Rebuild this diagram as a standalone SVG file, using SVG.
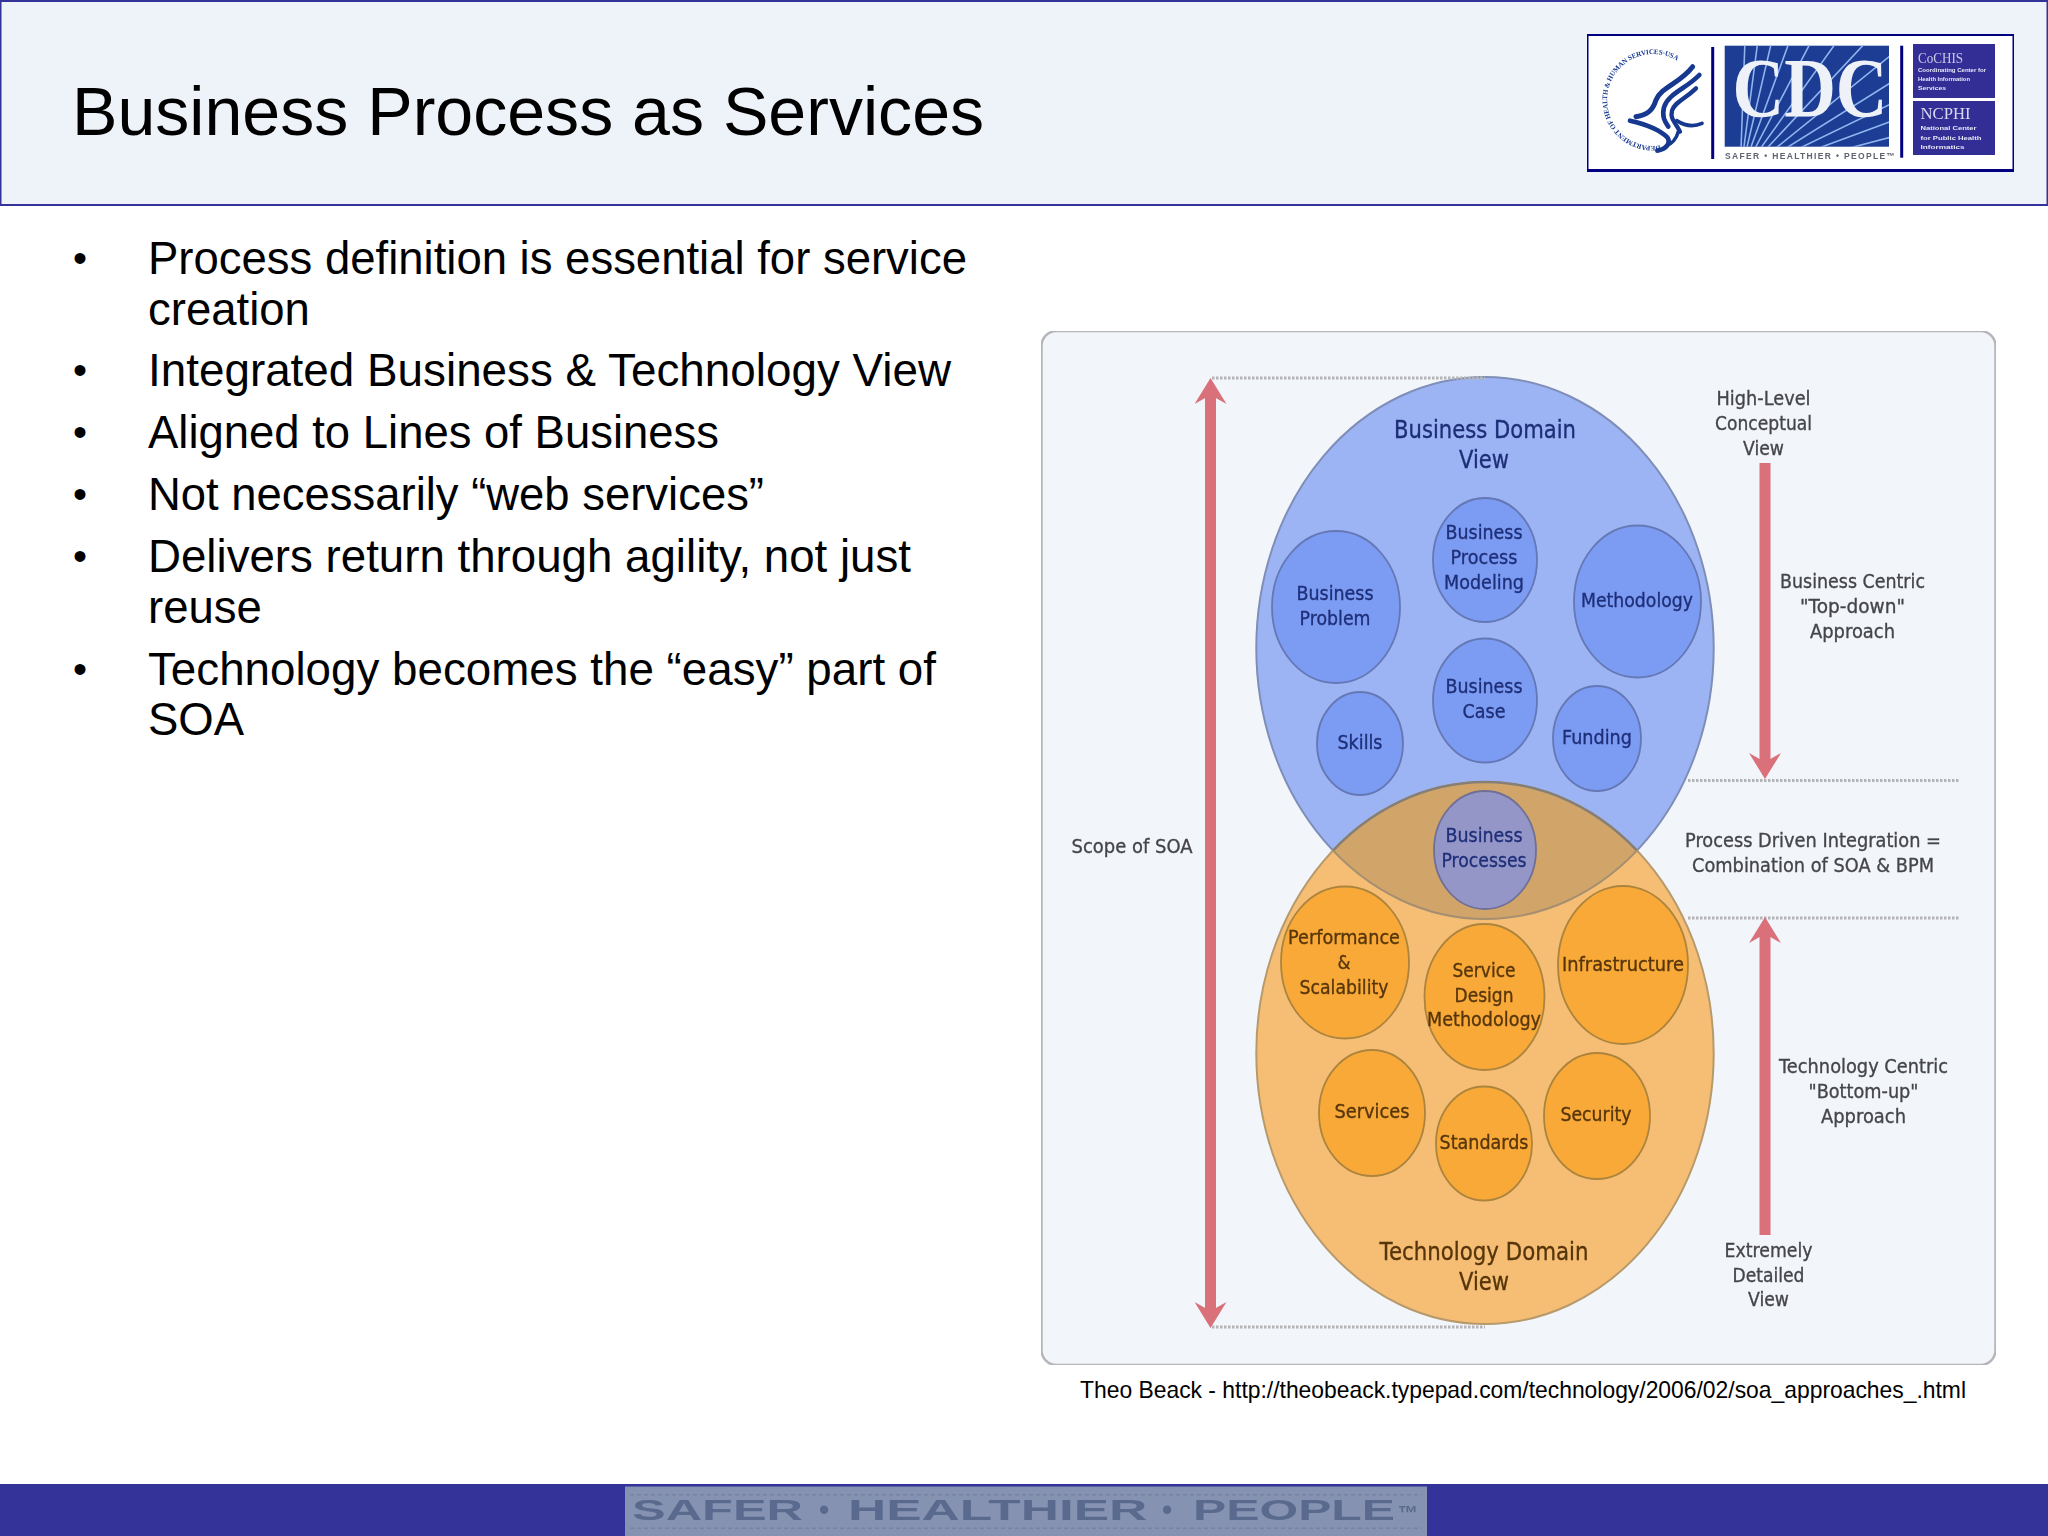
<svg xmlns="http://www.w3.org/2000/svg" xmlns:xlink="http://www.w3.org/1999/xlink" width="2048" height="1536" viewBox="0 0 2048 1536">
<style>
.sans{font-family:"Liberation Sans",Arial,sans-serif;fill:#000}
.title{font-size:68.1px}
.b{font-size:45.5px}
.dotb{font-size:40px}
.d{font-family:"DejaVu Sans",Verdana,sans-serif;text-anchor:middle;font-size:20px;stroke-width:.35}
.big{font-size:24px}
.bt{fill:#1f2f78;stroke:#1f2f78}
.ot{fill:#563509;stroke:#563509}
.gt{fill:#45454a;stroke:#45454a}
.sb{fill:#7c9bf3;stroke:#6478b4;stroke-width:1.8}
.so{fill:#f8a939;stroke:#ad843e;stroke-width:1.8}
.dot{stroke:#b4b4b6;stroke-width:3;stroke-dasharray:2.5 1.5;fill:none}
.arr{stroke:#d9707a;stroke-width:11;fill:none}
.lt{font-family:"Liberation Sans",Arial,sans-serif;font-weight:bold;font-size:6px;fill:#e6e7f8}
.ray{stroke:#8fb4ee;stroke-width:1.6;fill:none}
.eg{stroke:#16388f;fill:none;stroke-linecap:round}
</style>
<defs>
<marker id="head" markerUnits="userSpaceOnUse" viewBox="0 0 26 32" markerWidth="26" markerHeight="32" refX="16" refY="16" orient="auto-start-reverse">
<path d="M26 16L0 0L9 16L0 32Z" fill="#d9707a"/>
</marker>
<filter id="soft" x="0" y="0" width="1" height="1"><feGaussianBlur stdDeviation="0.6"/></filter>
<filter id="soft2" x="0" y="0" width="1" height="1"><feGaussianBlur stdDeviation="0.35"/></filter>
<clipPath id="lens"><ellipse cx="1485" cy="648" rx="228.7" ry="271"/></clipPath>
<clipPath id="lens2"><ellipse cx="1485" cy="1053" rx="228.7" ry="271"/></clipPath>
<clipPath id="cdcclip"><rect x="1724.7" y="45.7" width="164.3" height="101"/></clipPath>
<path id="seal" d="M1660 145.500A46 46 0 1 1 1688 70"/>
</defs>
<rect width="2048" height="1536" fill="#fff"/>
<g id="header">
<rect x="0.5" y="1" width="2047" height="204" fill="#eef2f9" stroke="#333399" stroke-width="2"/>
<text class="sans title" x="72" y="135">Business Process as Services</text>
</g>
<g id="logo" filter="url(#soft2)">
<rect x="1587" y="34.500" width="427" height="136" fill="#fff" stroke="#000080" stroke-width="3"/>
<text font-family="Liberation Serif,serif" font-weight="bold" font-size="7" fill="#16388f"><textPath xlink:href="#seal" href="#seal" textLength="176" lengthAdjust="spacing">DEPARTMENT OF HEALTH &amp; HUMAN SERVICES·USA</textPath></text>
<g transform="translate(1560 20) scale(.3333)">
<path class="eg" stroke-width="15" d="M398 140C360 190 305 200 288 240C278 272 262 285 228 290"/>
<path class="eg" stroke-width="14" d="M418 165C380 205 325 220 312 262C305 292 315 305 325 320"/>
<path class="eg" stroke-width="13" d="M408 205C372 240 345 245 336 272C330 298 345 305 360 335"/>
<path class="eg" stroke-width="14" d="M210 302C255 312 300 330 322 352C335 372 315 388 292 392"/>
<path class="eg" stroke-width="11" d="M350 302C375 318 400 322 426 310"/>
<path class="eg" stroke-width="11" d="M355 335C350 355 335 372 318 378"/>
</g>
<rect x="1711.200" y="47" width="3" height="112" fill="#000080"/>
<rect x="1724.700" y="45.700" width="164.300" height="101" fill="#1a3c93"/>
<g clip-path="url(#cdcclip)">
<path class="ray" d="M1740 177L1745 40M1740 177L1758 40M1740 177L1772 40M1740 177L1790 40M1740 177L1812 40M1740 177L1838 40M1740 177L1868 40M1740 177L1895 52M1740 177L1895 80M1740 177L1895 102M1740 177L1895 120M1740 177L1895 136"/>
</g>
<text x="1810" y="117" text-anchor="middle" font-family="Liberation Serif,serif" font-weight="bold" font-size="84" fill="#eef2f8" textLength="155" lengthAdjust="spacingAndGlyphs">CDC</text>
<text x="1725" y="159" font-family="Liberation Sans,sans-serif" font-weight="bold" font-size="8.500" fill="#5f6470" textLength="170" lengthAdjust="spacing">SAFER • HEALTHIER • PEOPLE™</text>
<rect x="1900.200" y="45.700" width="3" height="112" fill="#000080"/>
<rect x="1913" y="44" width="82" height="54" fill="#332f96"/>
<rect x="1913" y="101" width="82" height="54" fill="#332f96"/>
<text x="1918" y="62.500" font-family="Liberation Serif,serif" font-size="14" fill="#c9c9ea" textLength="45" lengthAdjust="spacingAndGlyphs">CoCHIS</text>
<text class="lt" x="1918" y="72" textLength="68" lengthAdjust="spacingAndGlyphs">Coordinating Center for</text>
<text class="lt" x="1918" y="81" textLength="52" lengthAdjust="spacingAndGlyphs">Health Information</text>
<text class="lt" x="1918" y="90" textLength="28" lengthAdjust="spacingAndGlyphs">Services</text>
<text x="1920.500" y="119" font-family="Liberation Serif,serif" font-size="16" fill="#d9d9f0" textLength="50" lengthAdjust="spacingAndGlyphs">NCPHI</text>
<text class="lt" x="1920.500" y="130" textLength="56" lengthAdjust="spacingAndGlyphs">National Center</text>
<text class="lt" x="1920.500" y="139.500" textLength="61" lengthAdjust="spacingAndGlyphs">for Public Health</text>
<text class="lt" x="1920.500" y="148.500" textLength="44" lengthAdjust="spacingAndGlyphs">Informatics</text>
</g>
<g id="bullets">
<text class="sans dotb" x="73" y="272">•</text>
<text class="sans b" x="148" y="274" textLength="819" lengthAdjust="spacingAndGlyphs">Process definition is essential for service</text>
<text class="sans b" x="148" y="324.500">creation</text>
<text class="sans dotb" x="73" y="384">•</text>
<text class="sans b" x="148" y="386" textLength="803" lengthAdjust="spacingAndGlyphs">Integrated Business &amp; Technology View</text>
<text class="sans dotb" x="73" y="446">•</text>
<text class="sans b" x="148" y="448" textLength="571" lengthAdjust="spacingAndGlyphs">Aligned to Lines of Business</text>
<text class="sans dotb" x="73" y="508">•</text>
<text class="sans b" x="148" y="510" textLength="616" lengthAdjust="spacingAndGlyphs">Not necessarily “web services”</text>
<text class="sans dotb" x="73" y="570">•</text>
<text class="sans b" x="148" y="572" textLength="763" lengthAdjust="spacingAndGlyphs">Delivers return through agility, not just</text>
<text class="sans b" x="148" y="622.500">reuse</text>
<text class="sans dotb" x="73" y="683">•</text>
<text class="sans b" x="148" y="684.500" textLength="788" lengthAdjust="spacingAndGlyphs">Technology becomes the “easy” part of</text>
<text class="sans b" x="148" y="735">SOA</text>
</g>
<g id="soa-diagram" filter="url(#soft)">
<rect id="panel" x="1041.500" y="331" width="954" height="1034" rx="15" fill="#f2f5fa" stroke="#b4b6ba" stroke-width="2.500"/>
<g id="business-domain">
<ellipse cx="1485" cy="648" rx="228.700" ry="271" fill="#9db4f4" stroke="#7f8eb8" stroke-width="2"/>
<text class="d big bt" x="1485" y="438" textLength="182" lengthAdjust="spacingAndGlyphs">Business Domain</text>
<text class="d big bt" x="1484" y="468" textLength="50" lengthAdjust="spacingAndGlyphs">View</text>
</g>
<g id="business-problem"><ellipse class="sb" cx="1336" cy="607" rx="64" ry="76"/>
<text class="d bt" x="1335" y="600" textLength="77" lengthAdjust="spacingAndGlyphs">Business</text>
<text class="d bt" x="1335" y="625" textLength="71" lengthAdjust="spacingAndGlyphs">Problem</text></g>
<g id="bpm"><ellipse class="sb" cx="1485" cy="560" rx="52" ry="62"/>
<text class="d bt" x="1484" y="539" textLength="77" lengthAdjust="spacingAndGlyphs">Business</text>
<text class="d bt" x="1484" y="564" textLength="67" lengthAdjust="spacingAndGlyphs">Process</text>
<text class="d bt" x="1484" y="589" textLength="80" lengthAdjust="spacingAndGlyphs">Modeling</text></g>
<g id="methodology"><ellipse class="sb" cx="1637.500" cy="601.500" rx="63.500" ry="76"/>
<text class="d bt" x="1637" y="607" textLength="112" lengthAdjust="spacingAndGlyphs">Methodology</text></g>
<g id="business-case"><ellipse class="sb" cx="1485" cy="700.500" rx="52" ry="62"/>
<text class="d bt" x="1484" y="693" textLength="77" lengthAdjust="spacingAndGlyphs">Business</text>
<text class="d bt" x="1484" y="718" textLength="43" lengthAdjust="spacingAndGlyphs">Case</text></g>
<g id="skills"><ellipse class="sb" cx="1360" cy="743.500" rx="43" ry="51.500"/>
<text class="d bt" x="1360" y="749" textLength="45" lengthAdjust="spacingAndGlyphs">Skills</text></g>
<g id="funding"><ellipse class="sb" cx="1597" cy="738.500" rx="44" ry="52.500"/>
<text class="d bt" x="1597" y="744" textLength="70" lengthAdjust="spacingAndGlyphs">Funding</text></g>
<g id="technology-domain">
<ellipse cx="1485" cy="1053" rx="228.700" ry="271" fill="#f6be74" stroke="#b79a6c" stroke-width="2"/>
<ellipse cx="1485" cy="1053" rx="228.700" ry="271" fill="#d1a46b" stroke="#857f75" stroke-width="2.500" clip-path="url(#lens)"/>
<ellipse cx="1485" cy="648" rx="228.700" ry="271" fill="none" stroke="#a58f70" stroke-width="2" clip-path="url(#lens2)"/>
<text class="d big ot" x="1484" y="1260" textLength="209" lengthAdjust="spacingAndGlyphs">Technology Domain</text>
<text class="d big ot" x="1484" y="1290" textLength="50" lengthAdjust="spacingAndGlyphs">View</text>
</g>
<g id="business-processes"><ellipse cx="1485" cy="850" rx="51" ry="59" fill="#9596c8" stroke="#6f6f96" stroke-width="1.800"/>
<text class="d bt" x="1484" y="842" textLength="77" lengthAdjust="spacingAndGlyphs">Business</text>
<text class="d bt" x="1484" y="867" textLength="85" lengthAdjust="spacingAndGlyphs">Processes</text></g>
<g id="performance"><ellipse class="so" cx="1345" cy="962.500" rx="64" ry="76"/>
<text class="d ot" x="1344" y="944" textLength="112" lengthAdjust="spacingAndGlyphs">Performance</text>
<text class="d ot" x="1344" y="969" textLength="13" lengthAdjust="spacingAndGlyphs">&amp;</text>
<text class="d ot" x="1344" y="994" textLength="89" lengthAdjust="spacingAndGlyphs">Scalability</text></g>
<g id="service-design"><ellipse class="so" cx="1484.500" cy="997" rx="60" ry="73"/>
<text class="d ot" x="1484" y="977" textLength="63" lengthAdjust="spacingAndGlyphs">Service</text>
<text class="d ot" x="1484" y="1002" textLength="59" lengthAdjust="spacingAndGlyphs">Design</text>
<text class="d ot" x="1484" y="1026" textLength="114" lengthAdjust="spacingAndGlyphs">Methodology</text></g>
<g id="infrastructure"><ellipse class="so" cx="1623" cy="965" rx="65" ry="79"/>
<text class="d ot" x="1623" y="971" textLength="122" lengthAdjust="spacingAndGlyphs">Infrastructure</text></g>
<g id="services"><ellipse class="so" cx="1372" cy="1113" rx="53" ry="63"/>
<text class="d ot" x="1372" y="1118" textLength="75" lengthAdjust="spacingAndGlyphs">Services</text></g>
<g id="standards"><ellipse class="so" cx="1484" cy="1143.500" rx="48" ry="57"/>
<text class="d ot" x="1484" y="1149" textLength="89" lengthAdjust="spacingAndGlyphs">Standards</text></g>
<g id="security"><ellipse class="so" cx="1597" cy="1116" rx="53" ry="63"/>
<text class="d ot" x="1596" y="1121" textLength="71" lengthAdjust="spacingAndGlyphs">Security</text></g>
<g id="labels">
<text class="d gt" x="1763.500" y="405" textLength="94" lengthAdjust="spacingAndGlyphs">High-Level</text>
<text class="d gt" x="1763.500" y="430" textLength="97" lengthAdjust="spacingAndGlyphs">Conceptual</text>
<text class="d gt" x="1763.500" y="455" textLength="41" lengthAdjust="spacingAndGlyphs">View</text>
<text class="d gt" x="1852.500" y="588" textLength="145" lengthAdjust="spacingAndGlyphs">Business Centric</text>
<text class="d gt" x="1852.500" y="613" textLength="105" lengthAdjust="spacingAndGlyphs">"Top-down"</text>
<text class="d gt" x="1852.500" y="638" textLength="85" lengthAdjust="spacingAndGlyphs">Approach</text>
<text class="d gt" x="1132" y="853" textLength="121" lengthAdjust="spacingAndGlyphs">Scope of SOA</text>
<text class="d gt" x="1813" y="847" textLength="256" lengthAdjust="spacingAndGlyphs">Process Driven Integration =</text>
<text class="d gt" x="1813" y="872" textLength="242" lengthAdjust="spacingAndGlyphs">Combination of SOA &amp; BPM</text>
<text class="d gt" x="1863.500" y="1073" textLength="169" lengthAdjust="spacingAndGlyphs">Technology Centric</text>
<text class="d gt" x="1863.500" y="1098" textLength="110" lengthAdjust="spacingAndGlyphs">"Bottom-up"</text>
<text class="d gt" x="1863.500" y="1123" textLength="85" lengthAdjust="spacingAndGlyphs">Approach</text>
<text class="d gt" x="1768.500" y="1257" textLength="88" lengthAdjust="spacingAndGlyphs">Extremely</text>
<text class="d gt" x="1768.500" y="1282" textLength="72" lengthAdjust="spacingAndGlyphs">Detailed</text>
<text class="d gt" x="1768.500" y="1306" textLength="41" lengthAdjust="spacingAndGlyphs">View</text>
</g>
</g>
<g id="connectors">
<path class="dot" d="M1212 378H1485M1212 1327H1485M1688 780.500H1960M1688 918H1960"/>
<path class="arr" d="M1210.500 388V1318" marker-start="url(#head)" marker-end="url(#head)"/>
<path class="arr" d="M1765 463V769" marker-end="url(#head)"/>
<path class="arr" d="M1765 1235V927" marker-end="url(#head)"/>
</g>
<text id="caption" class="sans" x="1080" y="1398" font-size="24" fill="#111" textLength="886" lengthAdjust="spacingAndGlyphs">Theo Beack - http://theobeack.typepad.com/technology/2006/02/soa_approaches_.html</text>
<g id="footer">
<rect y="1484" width="2048" height="52" fill="#333399"/>
<rect x="625" y="1486.500" width="802" height="49.500" fill="#8592b2"/>
<g filter="url(#soft)">
<path d="M630 1494H1422M630 1529H1422" stroke="#76849f" stroke-width="3" stroke-dasharray="4 3" fill="none"/>
<text y="1520" font-family="Liberation Sans,sans-serif" font-weight="bold" font-size="29" fill="#5a6b8e"><tspan x="632" textLength="185" lengthAdjust="spacingAndGlyphs">SAFER </tspan><tspan x="819">• </tspan><tspan x="848" textLength="314" lengthAdjust="spacingAndGlyphs">HEALTHIER </tspan><tspan x="1162">• </tspan><tspan x="1193" textLength="202" lengthAdjust="spacingAndGlyphs">PEOPLE</tspan><tspan x="1398" font-size="20">™</tspan></text>
</g>
</g>
</svg>
